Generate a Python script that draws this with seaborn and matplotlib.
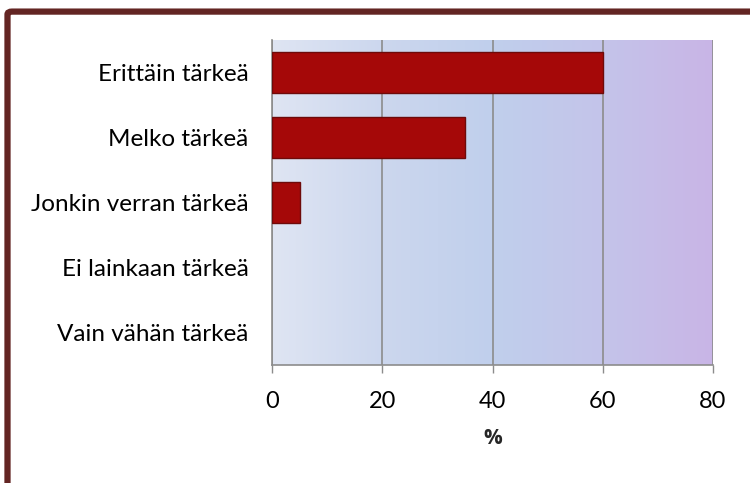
import numpy as np
import pandas as pd
import seaborn as sns
import matplotlib.pyplot as plt
from matplotlib.colors import LinearSegmentedColormap
from matplotlib.patches import FancyBboxPatch

categories = ["Erittäin tärkeä", "Melko tärkeä", "Jonkin verran tärkeä",
              "Ei lainkaan tärkeä", "Vain vähän tärkeä"]
values = [60, 35, 5, 0, 0]
x_ticks = [0, 20, 40, 60, 80]

df = pd.DataFrame({"category": categories, "percent": values})

sns.set_theme(style="white")
plt.rcParams["font.family"] = ["Lato", "DejaVu Sans"]
plt.rcParams["text.color"] = "black"
plt.rcParams["xtick.color"] = "black"
plt.rcParams["ytick.color"] = "black"

fig = plt.figure(figsize=(7.5, 4.83), dpi=100)
ax = fig.add_axes([0.3627, 0.2443, 0.588, 0.673])

# gradient background of the plot area
bg = LinearSegmentedColormap.from_list(
    "bg", ["#dfe5f3", "#ccd7ee", "#c0cfec", "#c4c4ea", "#c9b5e6"])
grad = np.linspace(0, 1, 256).reshape(1, -1)
ax.imshow(grad, cmap=bg, aspect="auto", extent=[0, 80, 4.5, -0.5], zorder=0)

sns.barplot(data=df, x="percent", y="category", orient="h", color="#a50808",
            width=0.62, edgecolor="#6e0a0a", linewidth=1.0, saturation=1,
            ax=ax, zorder=3)
# hide the empty bars (no thin line at zero)
for bar in ax.patches:
    if bar.get_width() == 0:
        bar.set_visible(False)

ax.set_xlim(0, 80)
ax.set_ylim(4.5, -0.5)
ax.set_xticks(x_ticks)
ax.set_xticklabels([str(t) for t in x_ticks], fontsize=17)
ax.tick_params(axis="y", labelsize=17.5, length=0, pad=17)
ax.tick_params(axis="x", bottom=True, length=6, width=1, color="#8c8c8c",
               direction="out", pad=13)
ax.grid(axis="x", color="#8c8c8c", linewidth=1.2, zorder=1)
ax.set_axisbelow(True)
ax.set_xlabel("%", fontsize=15, fontweight="bold", labelpad=11,
              family=["Open Sans", "DejaVu Sans"])
ax.set_ylabel("")
for side in ["top", "right"]:
    ax.spines[side].set_visible(False)
for side in ["left", "bottom"]:
    ax.spines[side].set_color("#8c8c8c")
    ax.spines[side].set_linewidth(1.2)

# dark red frame around the figure
frame = FancyBboxPatch((0.010, -0.05), 1.2, 1.026, transform=fig.transFigure,
                       boxstyle="round,pad=0,rounding_size=0.006",
                       facecolor="none", edgecolor="#632523", linewidth=4.5)
fig.patches.append(frame)

fig.savefig("out.png", dpi=100)
